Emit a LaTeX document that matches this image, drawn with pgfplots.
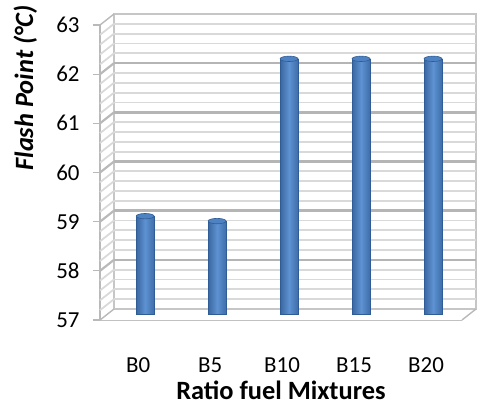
\documentclass[border=0pt]{standalone}
\usepackage{pgfplots}
\pgfplotsset{compat=1.18}
\usepackage{fontspec}
\setmainfont{Carlito}
\definecolor{barL}{HTML}{3A67A1}
\definecolor{barM}{HTML}{5E92D2}
\definecolor{barR}{HTML}{3E6DAA}
\definecolor{barLine}{HTML}{2F5C94}
\definecolor{barTop}{HTML}{4E82C3}
\newcommand{\lblfont}{\fontsize{23}{27}\selectfont}
\newcommand{\ttlfont}{\fontsize{26.5}{30}\selectfont}
\pgfplotsset{cyl/.style={ybar, bar width=0.25, bar shift=0pt, draw=barLine, line width=0.6pt,
    left color=barL, right color=barR, middle color=barM}}
\begin{document}
\begin{tikzpicture}
\path[use as bounding box] (-100bp,-85bp) rectangle (380bp,320bp);
% back wall
\begin{axis}[at={(14bp,11bp)}, anchor=south west, scale only axis,
  width=362bp, height=295bp, xmin=-0.53, xmax=4.5, ymin=57, ymax=63,
  xtick=\empty, ytick=\empty, clip=false,
  axis line style={draw=gray!45, line width=1.5pt}]
  \pgfplotsinvokeforeach{57.2,57.4,57.6,57.8,58.2,58.4,58.6,58.8,59.2,59.4,59.6,59.8,60.2,60.4,60.6,60.8,61.2,61.4,61.6,61.8,62.2,62.4,62.6,62.8}{
    \draw[gray!30, line width=2pt] (axis cs:-0.53,#1) -- (axis cs:4.5,#1);
  }
  \pgfplotsinvokeforeach{58,59,60,61,62}{
    \draw[gray!58, line width=2.6pt] (axis cs:-0.53,#1) -- (axis cs:4.5,#1);
  }
\end{axis}
% front plane with ticks and labels
\begin{axis}[at={(0bp,0bp)}, anchor=south west, scale only axis,
  width=362bp, height=295bp, xmin=-0.53, xmax=4.5, ymin=57, ymax=63,
  clip=false,
  axis x line*=bottom, axis y line*=left,
  axis line style={-, draw=gray!55, line width=1.4pt},
  xtick={0,1,2,3,4}, xticklabels={B0,B5,B10,B15,B20},
  x tick style={draw=none},
  ytick={57,58,59,60,61,62,63},
  yticklabels={57\rule{10bp}{0pt},58\rule{10bp}{0pt},59\rule{10bp}{0pt},60\rule{10bp}{0pt},61\rule{10bp}{0pt},62\rule{10bp}{0pt},63\rule{10bp}{0pt}},
  y tick style={draw=gray!55, line width=1.2pt},
  tick align=outside, major tick length=7bp,
  tick label style={font=\lblfont},
  xticklabel style={anchor=base, yshift=-45bp},
  yticklabel style={anchor=east},
  xlabel={Ratio fuel Mixtures},
  xlabel style={at={(axis description cs:0.5,0)}, anchor=base, yshift=-79bp, font=\ttlfont\bfseries},
  ylabel={Flash Point (°C)},
  ylabel style={at={(axis description cs:-0.185,0.786)}, anchor=base, font=\ttlfont\bfseries\itshape}]
  % floor
  \fill[white] (axis cs:-0.53,57) -- ++(14bp,11bp) -- ([shift={(14bp,11bp)}]axis cs:4.5,57) -- (axis cs:4.5,57) -- cycle;
  \draw[gray!45, line width=1.5pt] ([shift={(14bp,11bp)}]axis cs:-0.53,57) -- ([shift={(14bp,11bp)}]axis cs:4.5,57);
  \draw[gray!55, line width=1.4pt] (axis cs:4.5,57) -- ++(14bp,11bp);
  % left wall hatches
  \pgfplotsinvokeforeach{57.2,57.4,57.6,57.8,58.2,58.4,58.6,58.8,59.2,59.4,59.6,59.8,60.2,60.4,60.6,60.8,61.2,61.4,61.6,61.8,62.2,62.4,62.6,62.8}{
    \draw[gray!30, line width=1.8pt] (axis cs:-0.53,#1) -- ++(14bp,11bp);
  }
  \pgfplotsinvokeforeach{58,59,60,61,62}{
    \draw[gray!55, line width=2.2pt] (axis cs:-0.53,#1) -- ++(14bp,11bp);
  }
  \pgfplotsinvokeforeach{57,63}{
    \draw[gray!55, line width=1.4pt] (axis cs:-0.53,#1) -- ++(14bp,11bp);
  }
\end{axis}
% bars, half-way in depth
\begin{axis}[at={(7bp,5.5bp)}, anchor=south west, scale only axis,
  width=362bp, height=295bp, xmin=-0.53, xmax=4.5, ymin=57, ymax=63,
  hide axis]
  \addplot[cyl] coordinates {(0,59.0)};
  \addplot[cyl] coordinates {(1,58.9)};
  \addplot[cyl] coordinates {(2,62.2)};
  \addplot[cyl] coordinates {(3,62.2)};
  \addplot[cyl] coordinates {(4,62.2)};
  \addplot[only marks, mark=*, mark size=9bp,
    mark options={yscale=0.3, fill=barTop, draw=barLine, line width=0.6pt}]
    coordinates {(0,59.0) (1,58.9) (2,62.2) (3,62.2) (4,62.2)};
\end{axis}
\end{tikzpicture}
\end{document}
